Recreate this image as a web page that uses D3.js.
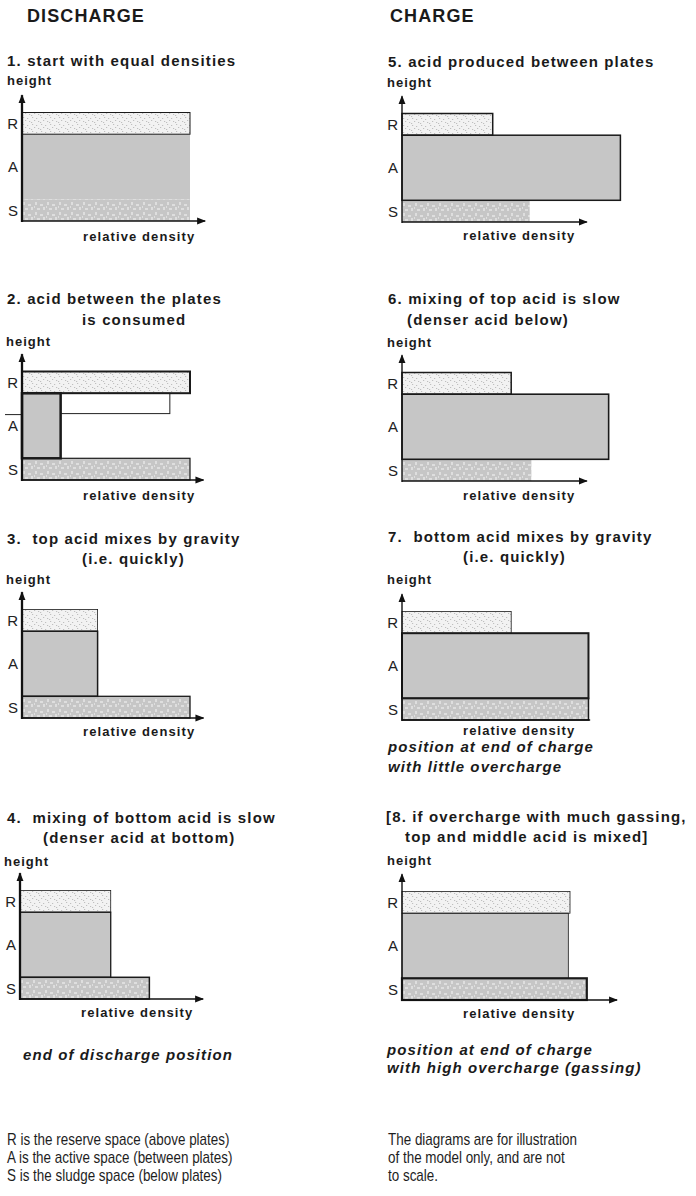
<!DOCTYPE html>
<html><head><meta charset="utf-8">
<script src="https://cdn.jsdelivr.net/npm/d3@7"></script>
<style>body{margin:0;background:#fff}svg{display:block}</style>
</head><body><script>
// ---------------- data ----------------
const columnHeads = ["DISCHARGE", "CHARGE"];
const panelTitles = [
  ["1. start with equal densities"],
  ["2. acid between the plates", "is consumed"],
  ["3.  top acid mixes by gravity", "(i.e. quickly)"],
  ["4.  mixing of bottom acid is slow", "(denser acid at bottom)"],
  ["5. acid produced between plates"],
  ["6. mixing of top acid is slow", "(denser acid below)"],
  ["7.  bottom acid mixes by gravity", "(i.e. quickly)"],
  ["[8. if overcharge with much gassing,", "top and middle acid is mixed]"]
];
const layerNames = ["S", "A", "R"];
const layerBottom = [0, 1, 4];
const layerTop = [1, 4, 5];
const densityS = [1.00, 1.00, 1.00, 0.77, 0.76, 0.77, 1.11, 1.10];
const densityA = [1.00, 0.23, 0.45, 0.54, 1.30, 1.23, 1.11, 0.99];
const densityR = [1.00, 1.00, 0.45, 0.54, 0.54, 0.65, 0.65, 1.00];
const remnantDensity = [0.23, 0.88];   // panel 2 outline of the former acid
const remnantHeight = [3.06, 4];
const axisLimitX = [1.09, 1.08, 1.08, 1.09, 1.10, 1.10, 1.12, 1.28];
const axisLimitY = 5.8;
const yAxisLabel = "height";
const xAxisLabel = "relative density";
const panelNotes = [[], [], [], ["end of discharge position"], [], [],
  ["position at end of charge", "with little overcharge"],
  ["position at end of charge", "with high overcharge (gassing)"]];
const footLeft = ["R is the reserve space (above plates)", "A is the active space (between plates)", "S is the sludge space (below plates)"];
const footRight = ["The diagrams are for illustration", "of the model only, and are not", "to scale."];

// ---------------- layout / style ----------------
const W = 696, H = 1196;
const origin = [[22,221],[22,480],[22,718],[20,999],[402,222],[402,481],[402,720],[402,1000]];
const titleX = [[7],[7,82],[7,82],[7,43],[388],[388,407],[388,463],[386,405]];
const titleY = [[66],[304,325],[544,564],[823,843],[67],[304,325],[542,562],[822,842]];
const heightX = [7,6,6,4,387,387,387,387];
const heightY = [85,346,584,866,87,347,584,865];
const xLabelDy = [20,20,18,18,18,19,15,18];
const noteX = [0,0,0,23,0,0,388,387];
const noteY = [[],[],[],[1060],[],[],[752,772],[1055,1073]];
const strokeW = [[0,0,1],[1.2,2.5,2],[1.3,1.5,0.8],[1.5,1.3,0.8],[0,1.5,1.5],[0,1.6,1.5],[1.5,2,0.8],[2.2,0.8,0.8]];
const showXArrow = [1,1,1,1,1,1,0,1];
const yAxisW = [2.3,2.3,2.3,2.3,1.4,1.4,1.4,1.4];
const FONT = "'Liberation Sans', Arial, Helvetica, sans-serif";

const x = d3.scaleLinear().domain([0, 1]).range([0, 168]);
const y = d3.scaleLinear().domain([0, 5]).range([0, -108.5]);

const svg = d3.select("body").append("svg").attr("width", W).attr("height", H)
  .style("background", "#fff");
const defs = svg.append("defs");

// patterns
const pR = defs.append("pattern").attr("id","patR").attr("patternUnits","userSpaceOnUse")
  .attr("width",9).attr("height",7);
pR.append("rect").attr("width",9).attr("height",7).attr("fill","#f2f2f2");
[[1,1],[5,2],[3,4],[7,5],[0,6]].forEach(([a,b]) =>
  pR.append("rect").attr("x",a).attr("y",b).attr("width",1.2).attr("height",0.9).attr("fill","#b9b9b9"));
const pS = defs.append("pattern").attr("id","patS").attr("patternUnits","userSpaceOnUse")
  .attr("width",12).attr("height",10);
pS.append("rect").attr("width",12).attr("height",10).attr("fill","#c6c6c6");
[[1,1,2,3],[6,3,3,2],[9,6,2,3],[3,7,3,2],[0,5,1,2]].forEach(([a,b,w,h]) =>
  pS.append("rect").attr("x",a).attr("y",b).attr("width",w).attr("height",h).attr("fill","#dedede"));
const fills = ["url(#patS)", "#c6c6c6", "url(#patR)"];

defs.append("marker").attr("id","arrow").attr("markerUnits","userSpaceOnUse")
  .attr("viewBox","0 -4 9 8").attr("refX",8).attr("refY",0)
  .attr("markerWidth",9).attr("markerHeight",8).attr("orient","auto")
  .append("path").attr("d","M0,-3.5L9,0L0,3.5Z").attr("fill","#111");

const bold = (sel, size) => sel.attr("font-family", FONT).attr("font-weight", "bold")
  .attr("font-size", size).attr("fill", "#1a1a1a");

// column heads
columnHeads.forEach((t, i) => bold(svg.append("text"), 18).attr("x", i ? 390 : 27).attr("y", 22)
  .attr("letter-spacing", 1.1).text(t));

const densities = [densityS, densityA, densityR];

panelTitles.forEach((lines, p) => {
  const [ox, oy] = origin[p];
  const g = svg.append("g");
  lines.forEach((t, k) => bold(g.append("text"), 15).attr("x", titleX[p][k]).attr("y", titleY[p][k])
    .attr("letter-spacing", 1.15).style("white-space","pre").text(t));
  bold(g.append("text"), 13).attr("x", heightX[p]).attr("y", heightY[p]).attr("letter-spacing", 1).text(yAxisLabel);

  const pg = g.append("g").attr("transform", `translate(${ox},${oy})`);
  layerNames.forEach((n, li) => {
    const d = densities[li][p];
    pg.append("rect").attr("x", x(0)).attr("y", y(layerTop[li]))
      .attr("width", x(d) - x(0)).attr("height", y(layerBottom[li]) - y(layerTop[li]))
      .attr("fill", fills[li]);
  });
  if (p === 1) {
    pg.append("rect").attr("x", x(remnantDensity[0])).attr("y", y(remnantHeight[1]))
      .attr("width", x(remnantDensity[1]) - x(remnantDensity[0]))
      .attr("height", y(remnantHeight[0]) - y(remnantHeight[1]))
      .attr("fill", "#fff").attr("stroke", "#222").attr("stroke-width", 1);
    pg.append("line").attr("x1", -17).attr("x2", 0)
      .attr("y1", y(remnantHeight[0]) + 1).attr("y2", y(remnantHeight[0]) + 1)
      .attr("stroke", "#222").attr("stroke-width", 1);
  }
  layerNames.forEach((n, li) => {
    const sw = strokeW[p][li];
    if (!sw) return;
    const d = densities[li][p];
    pg.append("rect").attr("x", x(0)).attr("y", y(layerTop[li]))
      .attr("width", x(d) - x(0)).attr("height", y(layerBottom[li]) - y(layerTop[li]))
      .attr("fill", "none").attr("stroke", "#1a1a1a").attr("stroke-width", sw);
  });
  layerNames.forEach((n, li) => {
    pg.append("text").attr("x", -4).attr("y", y((layerBottom[li] + layerTop[li]) / 2) + 5.5)
      .attr("text-anchor", "end").attr("font-family", FONT).attr("font-size", 15)
      .attr("fill", "#222").text(n);
  });
  pg.append("line").attr("x1", 0).attr("x2", x(axisLimitX[p])).attr("y1", 0).attr("y2", 0)
    .attr("stroke", "#111").attr("stroke-width", 1.6)
    .attr("marker-end", showXArrow[p] ? "url(#arrow)" : null);
  pg.append("line").attr("x1", 0).attr("x2", 0).attr("y1", 1).attr("y2", y(axisLimitY))
    .attr("stroke", "#111").attr("stroke-width", yAxisW[p]).attr("marker-end", "url(#arrow)");
  bold(pg.append("text"), 13).attr("x", 61).attr("y", xLabelDy[p]).attr("letter-spacing", 1.1).text(xAxisLabel);

  panelNotes[p].forEach((t, k) => bold(g.append("text"), 15).attr("font-style", "italic")
    .attr("x", noteX[p]).attr("y", noteY[p][k]).attr("letter-spacing", 1.1).text(t));
});

[footLeft, footRight].forEach((lines, c) => lines.forEach((t, k) =>
  svg.append("text").attr("transform", `translate(${c ? 388 : 7},${1145 + k * 18}) scale(0.84,1)`)
    .attr("font-family", FONT).attr("font-size", 16).attr("fill", "#1e1e1e").text(t)));
</script></body></html>
